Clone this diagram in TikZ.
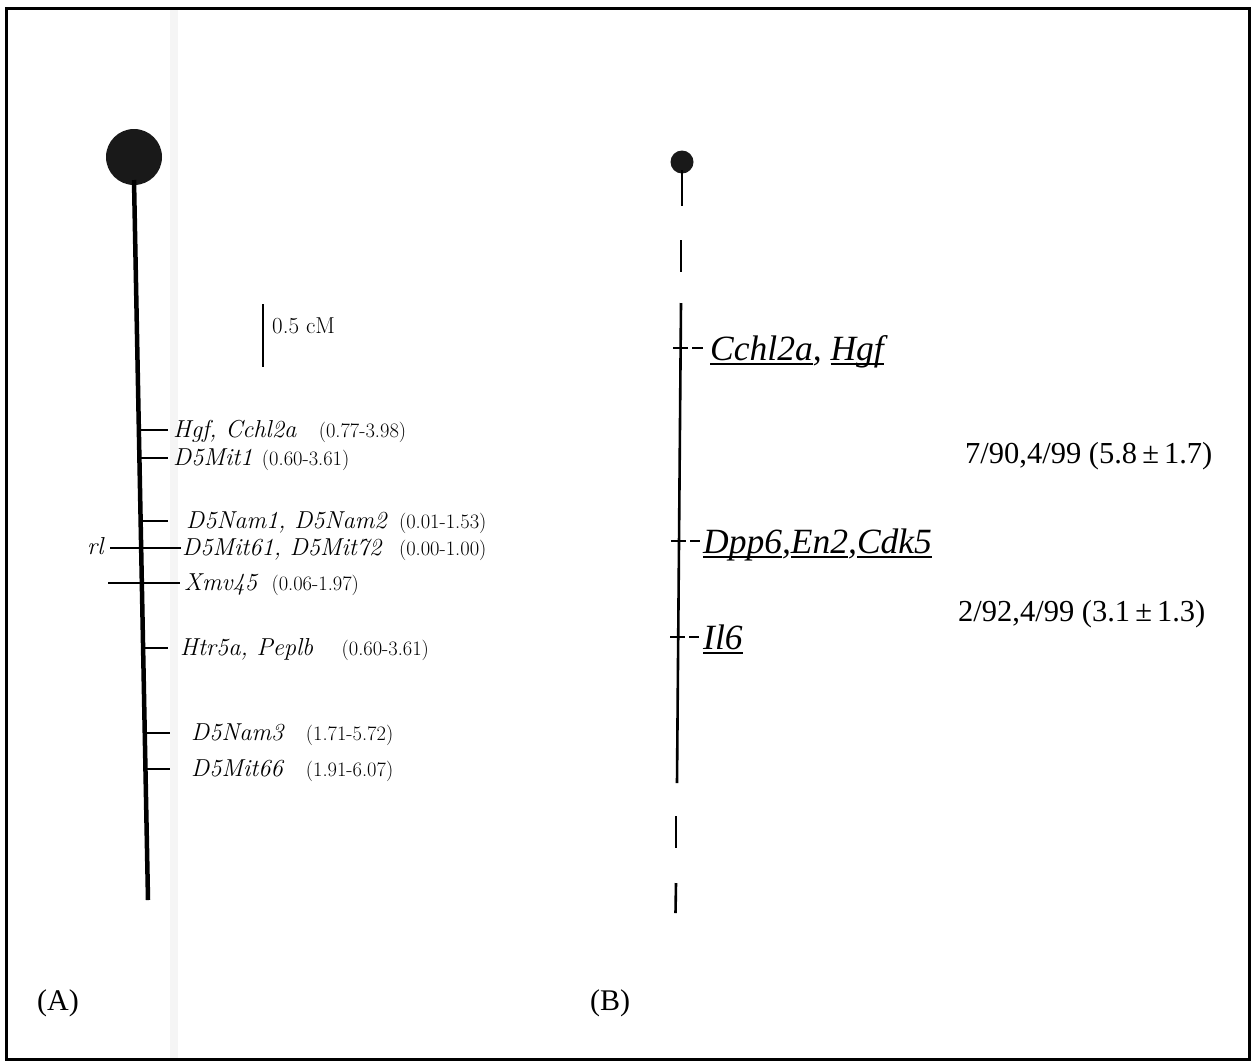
\documentclass[tikz,border=0pt]{standalone}
\usepackage{fontspec}
\newfontfamily\timesf{Liberation Serif}
\newcommand\myul[1]{\setbox0\hbox{#1}\rlap{\rule[-0.14em]{\wd0}{1.6pt}}\box0}
\begin{document}
\begin{tikzpicture}[x=1pt,y=-1pt,
  chromA/.style={line width=4.5pt},
  chromB/.style={line width=2.6pt},
  tickln/.style={line width=1.6pt},
  labA/.style={anchor=base west, inner sep=0pt, font=\fontsize{24.5}{28}\selectfont\itshape\addfontfeature{FakeBold=0.6}},
  numA/.style={anchor=base west, inner sep=0pt, font=\fontsize{20.5}{24}\selectfont\addfontfeature{FakeBold=0.5}},
  labB/.style={anchor=base west, inner sep=0pt, font=\timesf\fontsize{35.5}{40}\selectfont\itshape},
  numB/.style={anchor=base west, inner sep=0pt, font=\timesf\fontsize{30.5}{35}\selectfont},
  panel/.style={anchor=base west, inner sep=0pt, font=\timesf\fontsize{30}{34}\selectfont}]
\useasboundingbox (0,0) rectangle (1252,1061);
\fill[white] (0,0) rectangle (1252,1061);
% scan stripe
\fill[black!4] (170,8) rectangle (178,1059);
% frame
\draw[line width=3pt] (6,8) rectangle (1249,1059);

% ---------------- Panel A ----------------
\fill[black!90] (134,157) circle (28);
\coordinate (atop) at (134,180);
\coordinate (abot) at (148,900);
\draw[chromA] (atop) -- (abot);
% scale bar
\coordinate (s1) at (263,304);
\coordinate (s2) at (263,367);
\draw[line width=2pt] (s1) -- (s2);
\node[anchor=base west, inner sep=0pt, font=\fontsize{23}{27}\selectfont\addfontfeature{FakeBold=0.5}] (scale) at (272,333) {0.5 cM};

% ticks and labels
\draw[tickln] (139,430) -- (168,430);
\node[labA] (hgf) at (173,437) {Hgf, Cchl2a};
\node[numA] (hgfn) at ([xshift=22pt]hgf.base east) {(0.77-3.98)};

\draw[tickln] (139.5,458) -- (168,458);
\node[labA] (mit1) at (173,465) {D5Mit1};
\node[numA] (mit1n) at ([xshift=9pt]mit1.base east) {(0.60-3.61)};

\draw[tickln] (140.5,521) -- (168,521);
\node[labA] (nam1) at (186,528) {D5Nam1, D5Nam2};
\node[numA] (nam1n) at ([xshift=12pt]nam1.base east) {(0.01-1.53)};

\node[labA] (rl) at (87,554) {rl};
\draw[tickln] (110,548) -- (181,548);
\node[labA] (mit61) at (182,555) {D5Mit61, D5Mit72};
\node[numA] (mit61n) at (nam1n.base west |- 0,555) {(0.00-1.00)};

\draw[tickln] (108,583) -- (180,583);
\node[labA] (xmv) at (184,590) {Xmv45};
\node[numA] (xmvn) at ([xshift=14pt]xmv.base east) {(0.06-1.97)};

\draw[tickln] (142,648) -- (168,648);
\node[labA] (htr) at (180,655) {Htr5a, Peplb};
\node[numA] (htrn) at ([xshift=28pt]htr.base east) {(0.60-3.61)};

\draw[tickln] (143.5,733) -- (170,733);
\node[labA] (nam3) at (191,740) {D5Nam3};
\node[numA] (nam3n) at ([xshift=22pt]nam3.base east) {(1.71-5.72)};

\draw[tickln] (144,769) -- (170,769);
\node[labA] (mit66) at (191,776) {D5Mit66};
\node[numA] (mit66n) at (nam3n.base west |- 0,776) {(1.91-6.07)};

\node[panel] (A) at (37,1010) {(A)};

% ---------------- Panel B ----------------
\fill[black!90] (682,162) circle (11.5);
\draw[chromB] (682,170) -- (682,206);
\draw[chromB] (681,240) -- (681,272);
\draw[chromB] (681,303) -- (677,783);
\draw[chromB] (676,816) -- (676,848);
\draw[chromB] (676,883) -- (675.5,913);

\draw[tickln] (673,348) -- (688,348);
\draw[tickln] (692,348) -- (703,348);
\node[labB] (cchl) at (710,360) {\myul{Cchl2a}, \myul{Hgf}};

\draw[tickln] (671,541) -- (686,541);
\draw[tickln] (690,541) -- (700,541);
\node[labB] (dpp) at (703,553) {\myul{Dpp6},\myul{En2},\myul{Cdk5}};

\draw[tickln] (670,637) -- (685,637);
\draw[tickln] (689,637) -- (699,637);
\node[labB] (il6) at (703,649) {\myul{Il6}};

\node[numB] (r1) at (965,463) {7/90,4/99 (5.8\,±\,1.7)};
\node[numB] (r2) at (958,621) {2/92,4/99 (3.1\,±\,1.3)};

\node[panel] (B) at (590,1010) {(B)};
\end{tikzpicture}
\end{document}
